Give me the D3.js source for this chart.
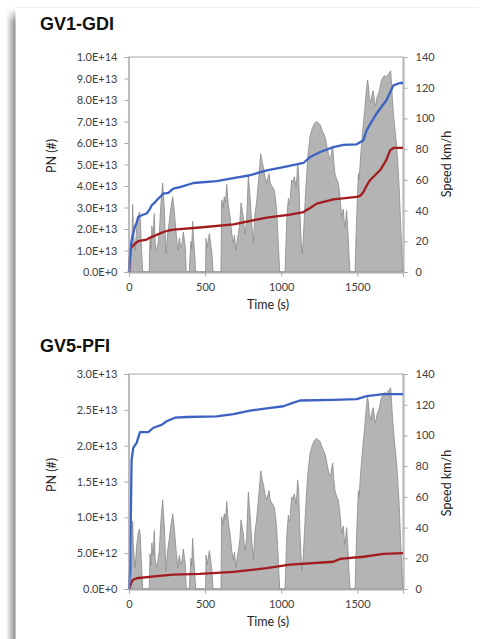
<!DOCTYPE html>
<html>
<head>
<meta charset="utf-8">
<script src="https://cdn.jsdelivr.net/npm/d3@7"></script>
<style>
  html, body { margin: 0; padding: 0; background: #fff; }
  svg { display: block; }
</style>
</head>
<body>
<script>
// ---------------- DATA ----------------
const timeTicks = [0, 500, 1000, 1500];
const speedTicks = [0, 20, 40, 60, 80, 100, 120, 140];

// vehicle speed (km/h) vs time (s) – same drive cycle in both panels
const speedTime = [0,11,16,20,24,28,33,41,50,60,68,74,80,90,
  133,138,145,150,158,166,172,180,190,199,210,221,232,243,254,265,276,287,298,309,320,331,340,348,357,365,370,376,
  396,402,407,412,418,424,430,438,
  503,506,514,520,528,540,545,552,
  604,609,617,626,634,642,653,664,675,686,693,701,710,719,728,736,744,751,758,763,773,779,784,790,795,806,817,828,838,845,855,865,874,883,893,904,912,920,928,937,946,955,963,970,978,985,990,
  1025,1030,1036,1047,1053,1058,1064,1069,1077,1086,1093,1097,1103,1108,1114,1122,1130,1137,1143,1150,1156,1165,1175,1189,1205,1220,1233,1245,1255,1270,1288,1300,1310,1318,1325,1332,1338,1345,1353,1365,1375,1386,1397,1408,1414,1419,1425,1430,1436,1441,1446,1452,
  1485,1492,1500,1507,1512,1518,1525,1532,1540,1548,1556,1563,1567,1572,1578,1584,1590,1597,1605,1612,1618,1623,1630,1638,1645,1652,1660,1671,1680,1690,1704,1712,1719,1725,1732,1740,1748,1758,1766,1775,1783,1790,1796,1800];
const speedKmh = [0,0,12,25,44,30,22,14,28,36,39,35,20,0,
  0,23,15,30,22,38,19,14,18,25,45,58,41,12,25,33,42,49,39,26,14,22,16,18,26,20,16,0,
  0,12,20,15,33,22,14,0,
  0,22,16,20,25,16,12,0,
  0,47,42,49,45,57,43,36,25,19,24,14,20,25,32,45,40,36,28,25,34,50,63,55,49,32,19,38,45,53,64,77,72,68,62,58,61,64,58,56,55,53,47,40,25,10,0,
  0,15,34,48,44,45,55,60,58,62,58,55,62,71,65,40,22,12,18,32,44,60,75,88,94,97,98,97,96,92,88,82,77,74,74,79,82,72,64,60,58,49,36,41,33,29,35,40,30,21,10,0,
  0,25,48,64,60,70,80,88,97,105,115,122,125,122,115,112,110,116,118,112,108,110,114,116,118,122,125,127,128,127,129,130,131,122,110,100,92,82,70,55,35,18,5,0];

// GV1-GDI cumulative particle number (#)
const gdiTickValues = [0,1e13,2e13,3e13,4e13,5e13,6e13,7e13,8e13,9e13,1e14];
const gdiTickLabels = ["0.0E+0","1.0E+13","2.0E+13","3.0E+13","4.0E+13","5.0E+13","6.0E+13","7.0E+13","8.0E+13","9.0E+13","1.0E+14"];
const gdiBlueTime = [0,8,17,28,39,50,61,83,116,135,149,165,182,205,226,258,291,335,423,576,686,795,905,1014,1146,1190,1256,1343,1409,1496,1540,1561,1590,1626,1660,1691,1737,1780,1800];
const gdiBluePN   = [0,0.9e13,1.47e13,1.8e13,2.09e13,2.3e13,2.56e13,2.64e13,2.72e13,2.9e13,3.1e13,3.2e13,3.34e13,3.5e13,3.65e13,3.68e13,3.88e13,3.95e13,4.14e13,4.23e13,4.37e13,4.5e13,4.73e13,4.88e13,5.07e13,5.35e13,5.58e13,5.81e13,5.91e13,5.94e13,6.13e13,6.59e13,6.95e13,7.37e13,7.7e13,7.99e13,8.68e13,8.79e13,8.79e13];
const gdiRedTime = [0,5,11,28,45,61,116,140,160,190,226,260,291,466,686,905,1058,1146,1190,1233,1343,1496,1520,1540,1560,1583,1649,1690,1715,1737,1800];
const gdiRedPN   = [0,0.6e13,1.09e13,1.24e13,1.35e13,1.44e13,1.51e13,1.6e13,1.66e13,1.75e13,1.86e13,1.93e13,1.97e13,2.07e13,2.22e13,2.53e13,2.67e13,2.79e13,2.98e13,3.18e13,3.38e13,3.49e13,3.55e13,3.72e13,4.0e13,4.27e13,4.73e13,5.2e13,5.66e13,5.77e13,5.77e13];

// GV5-PFI cumulative particle number (#)
const pfiTickValues = [0,5e12,1e13,1.5e13,2e13,2.5e13,3e13];
const pfiTickLabels = ["0.0E+0","5.0E+12","1.0E+13","1.5E+13","2.0E+13","2.5E+13","3.0E+13"];
const pfiBlueTime = [0,8,12,17,28,50,72,127,160,214,247,302,379,576,686,795,905,1014,1080,1124,1343,1496,1561,1671,1800];
const pfiBluePN   = [0,0.3e13,1.0e13,1.8e13,1.97e13,2.04e13,2.19e13,2.19e13,2.25e13,2.29e13,2.34e13,2.39e13,2.40e13,2.41e13,2.44e13,2.49e13,2.52e13,2.55e13,2.60e13,2.63e13,2.64e13,2.65e13,2.69e13,2.72e13,2.72e13];
const pfiRedTime = [0,15,28,50,182,291,466,686,905,1058,1343,1387,1540,1671,1800];
const pfiRedPN   = [0,0.09e13,0.13e13,0.15e13,0.18e13,0.20e13,0.21e13,0.24e13,0.29e13,0.34e13,0.38e13,0.42e13,0.45e13,0.49e13,0.50e13];

// ---------------- DRAWING ----------------
const W = 484, H = 639;
const svg = d3.select("body").append("svg").attr("width", W).attr("height", H);

// left page shadow + faint top line
const defs = svg.append("defs");
const g1 = defs.append("linearGradient").attr("id", "shadow").attr("x1", "0").attr("x2", "1").attr("y1", "0").attr("y2", "0");
g1.append("stop").attr("offset", "0").attr("stop-color", "#ffffff");
g1.append("stop").attr("offset", "1").attr("stop-color", "#8e8e8e");
const g2 = defs.append("linearGradient").attr("id", "fadeTop").attr("x1", "0").attr("x2", "0").attr("y1", "0").attr("y2", "1");
g2.append("stop").attr("offset", "0").attr("stop-color", "#fff").attr("stop-opacity", 1);
g2.append("stop").attr("offset", "1").attr("stop-color", "#fff").attr("stop-opacity", 0);
svg.append("rect").attr("x", 6).attr("y", 8).attr("width", 9.5).attr("height", H - 8).attr("fill", "url(#shadow)");
svg.append("rect").attr("x", 5).attr("y", 8).attr("width", 12).attr("height", 14).attr("fill", "url(#fadeTop)");
svg.append("line").attr("x1", 15).attr("x2", 478).attr("y1", 7.5).attr("y2", 7.5).attr("stroke", "#f0f0f0");

const tickFont = "Lato, 'Open Sans', sans-serif";
const axisColor = "#a6a6a6";
const textColor = "#404040";

function drawPanel(cfg) {
  const x0 = 129, x1 = 403;
  const top = cfg.top, bottom = cfg.top + 215;
  const x = d3.scaleLinear().domain([0, 1800]).range([x0, x1]);
  const yPN = d3.scaleLinear().domain([0, cfg.pnMax]).range([bottom, top]);
  const ySp = d3.scaleLinear().domain([0, 140]).range([bottom, top]);

  // title
  svg.append("text").attr("x", 40).attr("y", cfg.titleY)
    .attr("font-family", "'Liberation Sans', Arial, sans-serif").attr("font-weight", "bold")
    .attr("font-size", 18).attr("fill", "#111").text(cfg.title);

  // plot frame
  svg.append("rect").attr("x", x0).attr("y", top).attr("width", x1 - x0).attr("height", bottom - top)
    .attr("fill", "none").attr("stroke", axisColor).attr("stroke-width", 1);

  // speed area
  const spData = speedTime.map((t, i) => [t, speedKmh[i]]);
  const area = d3.area().x(d => x(d[0])).y0(ySp(0)).y1(d => ySp(d[1]));
  svg.append("path").datum(spData).attr("d", area)
    .attr("fill", "#b4b4b4").attr("stroke", "#8a8a8a").attr("stroke-width", 0.8);

  // PN lines
  const line = d3.line().x(d => x(d[0])).y(d => yPN(d[1]));
  svg.append("path").datum(cfg.redT.map((t, i) => [t, cfg.redV[i]])).attr("d", line)
    .attr("fill", "none").attr("stroke", "#a21c1f").attr("stroke-width", 2.3).attr("stroke-linejoin", "round");
  svg.append("path").datum(cfg.blueT.map((t, i) => [t, cfg.blueV[i]])).attr("d", line)
    .attr("fill", "none").attr("stroke", "#3c62c4").attr("stroke-width", 2.3).attr("stroke-linejoin", "round");

  // axes
  const styleAxis = g => {
    g.selectAll(".domain").attr("stroke", axisColor);
    g.selectAll(".tick line").attr("stroke", axisColor);
    g.selectAll(".tick text").attr("fill", textColor).attr("font-family", tickFont).attr("font-size", 11);
  };
  svg.append("g").attr("transform", `translate(${x0 - 0.5},0)`)
    .call(d3.axisLeft(yPN).tickValues(cfg.tickValues).tickFormat((d, i) => cfg.tickLabels[i]).tickSizeOuter(0).tickSize(4).tickPadding(7))
    .call(styleAxis);
  svg.append("g").attr("transform", `translate(${x1 + 0.5},0)`)
    .call(d3.axisRight(ySp).tickValues(speedTicks).tickFormat(d3.format("d")).tickSizeOuter(0).tickSize(4).tickPadding(8))
    .call(styleAxis);
  svg.append("g").attr("transform", `translate(0,${bottom + 0.5})`)
    .call(d3.axisBottom(x).tickValues(timeTicks).tickFormat(d3.format("d")).tickSizeOuter(0).tickSize(4).tickPadding(7))
    .call(styleAxis);

  // axis titles
  svg.append("text").attr("x", (x0 + x1) / 2 + 2).attr("y", bottom + 37)
    .attr("text-anchor", "middle").attr("font-family", tickFont).attr("font-size", 12.5)
    .attr("fill", "#222").text("Time (s)");
  svg.append("text").attr("transform", `translate(56,${cfg.pnLabelY}) rotate(-90)`)
    .attr("text-anchor", "middle").attr("font-family", tickFont).attr("font-size", 12.5)
    .attr("fill", "#222").text("PN (#)");
  svg.append("text").attr("transform", `translate(451,${cfg.spLabelY}) rotate(-90)`)
    .attr("text-anchor", "middle").attr("font-family", tickFont).attr("font-size", 12.5)
    .attr("fill", "#222").text("Speed km/h");
}

drawPanel({
  title: "GV1-GDI", titleY: 30, top: 57, pnMax: 1e14,
  tickValues: gdiTickValues, tickLabels: gdiTickLabels,
  blueT: gdiBlueTime, blueV: gdiBluePN, redT: gdiRedTime, redV: gdiRedPN,
  pnLabelY: 156, spLabelY: 164
});
drawPanel({
  title: "GV5-PFI", titleY: 352, top: 374, pnMax: 3e13,
  tickValues: pfiTickValues, tickLabels: pfiTickLabels,
  blueT: pfiBlueTime, blueV: pfiBluePN, redT: pfiRedTime, redV: pfiRedPN,
  pnLabelY: 475, spLabelY: 483
});
</script>
</body>
</html>
